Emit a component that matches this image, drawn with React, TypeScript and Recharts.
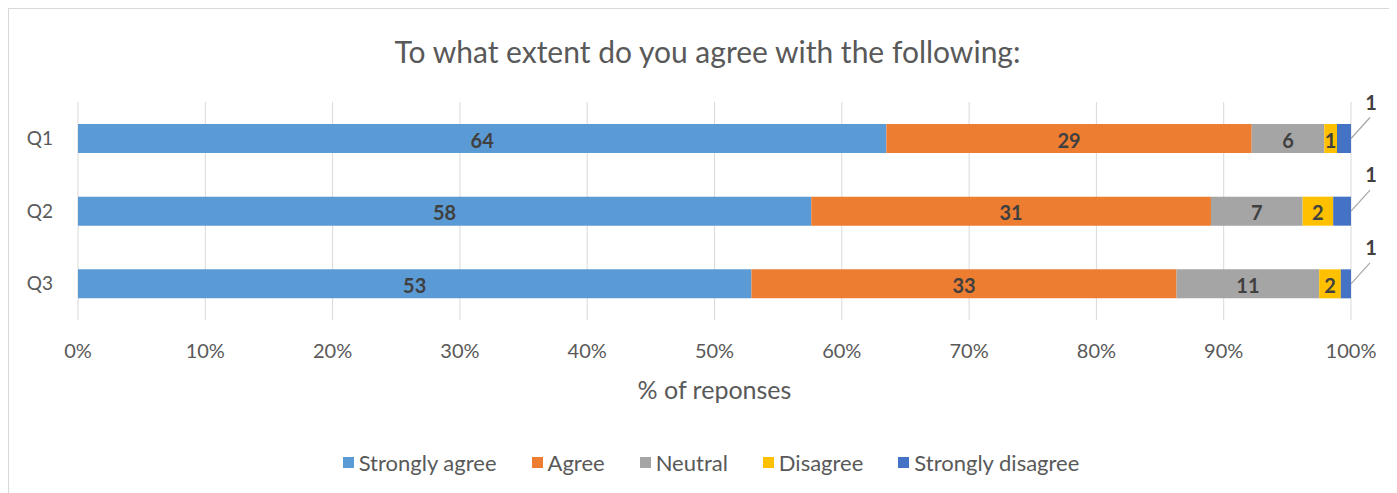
import React from "react";
import {
  Bar,
  BarChart,
  XAxis,
  YAxis,
  CartesianGrid,
  Legend,
  LabelList,
} from "recharts";

// share of responses per question (%), labels show rounded values
const questions = ["Q1", "Q2", "Q3"];
const stronglyAgree = [63.5, 57.6, 52.9];
const agree = [28.7, 31.4, 33.4];
const neutral = [5.7, 7.2, 11.2];
const disagree = [1.0, 2.4, 1.7];
const stronglyDisagree = [1.1, 1.4, 0.8];

const xTicks = [0, 0.1, 0.2, 0.3, 0.4, 0.5, 0.6, 0.7, 0.8, 0.9, 1];

const seriesDefs = [
  { key: "sa", name: "Strongly agree", color: "#5B9BD5", values: stronglyAgree },
  { key: "a", name: "Agree", color: "#ED7D31", values: agree },
  { key: "n", name: "Neutral", color: "#A5A5A5", values: neutral },
  { key: "d", name: "Disagree", color: "#FFC000", values: disagree },
  { key: "sd", name: "Strongly disagree", color: "#4472C4", values: stronglyDisagree },
];

const data = questions.map((q, i) => {
  const row: Record<string, string | number> = { q };
  seriesDefs.forEach((s) => {
    row[s.key] = s.values[i];
  });
  return row;
});

const font = "Lato, 'Open Sans', sans-serif";
const textColor = "#595959";
const labelColor = "#404040";

function makeLabel(values: number[], callout: boolean) {
  return (props: any) => {
    const { x, y, width, height, index } = props;
    const v = Math.round(values[index]);
    const cy = y + height / 2;
    if (callout) {
      const ex = x + width;
      return (
        <g>
          <line x1={ex} y1={cy} x2={ex + 19} y2={cy - 21} stroke="#A6A6A6" strokeWidth={1.2} />
          <text
            x={ex + 20}
            y={cy - 37}
            textAnchor="middle"
            dominantBaseline="central"
            fontFamily={font}
            fontWeight="bold"
            fontSize={20}
            fill={labelColor}
          >
            {v}
          </text>
        </g>
      );
    }
    return (
      <text
        x={x + width / 2}
        y={cy + 1}
        textAnchor="middle"
        dominantBaseline="central"
        fontFamily={font}
        fontWeight="bold"
        fontSize={20}
        fill={labelColor}
      >
        {v}
      </text>
    );
  };
}

const legendOrder = seriesDefs.map((s) => s.name);

function renderLegend(props: any) {
  const payload = [...(props.payload || [])].sort(
    (a: any, b: any) => legendOrder.indexOf(a.value) - legendOrder.indexOf(b.value)
  );
  return (
    <div
      style={{
        display: "flex",
        justifyContent: "center",
        alignItems: "center",
        gap: 35,
        fontFamily: font,
        fontSize: 22,
        color: textColor,
        height: 30,
      }}
    >
      {payload.map((p: any) => (
        <div key={p.value} style={{ display: "flex", alignItems: "center" }}>
          <span
            style={{
              display: "inline-block",
              width: 11,
              height: 11,
              background: p.color,
              marginRight: 5,
            }}
          />
          <span>{p.value}</span>
        </div>
      ))}
    </div>
  );
}

export default function App() {
  return (
    <div style={{ width: 1389, height: 485, overflow: "hidden" }}>
      <div
        style={{
          position: "relative",
          width: 1420,
          height: 520,
          border: "1px solid #D9D9D9",
          background: "#fff",
        }}
      >
        <div
          style={{
            position: "absolute",
            top: 25,
            left: 0,
            width: 1389,
            paddingLeft: 8,
            boxSizing: "border-box",
            textAlign: "center",
            fontFamily: font,
            fontSize: 30,
            lineHeight: "34px",
            color: textColor,
          }}
        >
          To what extent do you agree with the following:
        </div>
        <BarChart
          width={1389}
          height={484}
          data={data}
          layout="vertical"
          stackOffset="expand"
          barSize={29}
          margin={{ top: 93, right: 47, left: 0, bottom: 16 }}
        >
          <CartesianGrid horizontal={false} stroke="#D9D9D9" />
          <XAxis
            type="number"
            domain={[0, 1]}
            ticks={xTicks}
            tickFormatter={(v) => `${Math.round(v * 100)}%`}
            axisLine={false}
            tickLine={false}
            tickMargin={18}
            height={127}
            tick={{ fill: textColor, fontSize: 20, fontFamily: font }}
            label={{
              value: "% of reponses",
              position: "insideBottom",
              offset: 48,
              fill: textColor,
              fontSize: 25,
              fontFamily: font,
            }}
          />
          <YAxis
            type="category"
            dataKey="q"
            width={69}
            axisLine={false}
            tickLine={false}
            tickMargin={19}
            tick={{ fill: textColor, fontSize: 19, fontFamily: font }}
          />
          <Legend
            verticalAlign="bottom"
            content={renderLegend}
            wrapperStyle={{ left: 0, width: 1404, height: 30 }}
          />
          {seriesDefs.map((s, i) => (
            <Bar
              key={s.key}
              dataKey={s.key}
              name={s.name}
              stackId="all"
              fill={s.color}
              isAnimationActive={false}
            >
              <LabelList
                dataKey={s.key}
                content={makeLabel(s.values, i === seriesDefs.length - 1)}
              />
            </Bar>
          ))}
        </BarChart>
      </div>
    </div>
  );
}
